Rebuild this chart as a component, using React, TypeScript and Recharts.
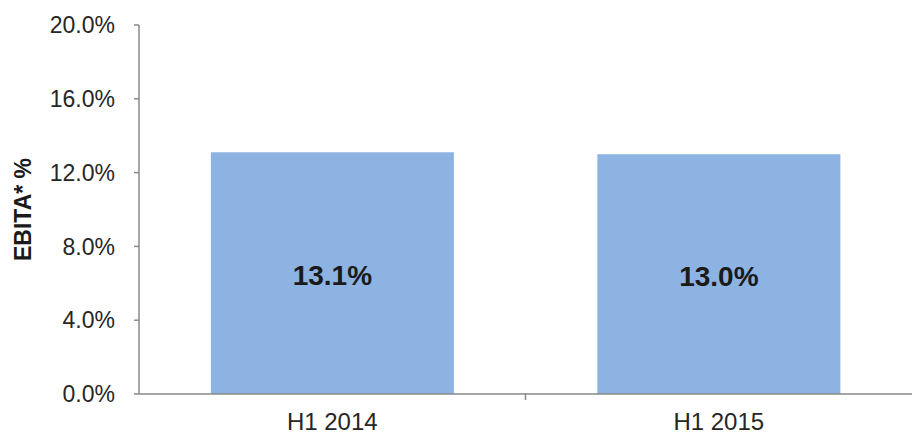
import { BarChart, Bar, XAxis, YAxis, LabelList } from 'recharts';

const periods = ['H1 2014', 'H1 2015'];
const ebitaMargin = [13.1, 13.0];
const yTicks = [0, 4, 8, 12, 16, 20];

const data = periods.map((p, i) => ({ period: p, value: ebitaMargin[i] }));

const W = 912;
const H = 434;
const AXIS_W = 139;
const BAND = (W - AXIS_W) / periods.length;

const FONT = 'Arial, "Liberation Sans", sans-serif';
const AXIS_COLOR = '#8a8a8a';

// category label at the centre, divider tick between the two periods
function XTick(props: any) {
  const { x, y, payload, index } = props;
  return (
    <g>
      <text x={x} y={y + 28} textAnchor="middle" fontFamily={FONT} fontSize={24} fill="#262626">
        {payload.value}
      </text>
      {index < periods.length - 1 && (
        <line x1={x + BAND / 2} x2={x + BAND / 2} y1={y - 9} y2={y - 2} stroke={AXIS_COLOR} strokeWidth={1.5} />
      )}
    </g>
  );
}

export default function App() {
  return (
    <div style={{ position: 'absolute', left: 0, top: 0, background: '#fff' }}>
      <BarChart
        width={W}
        height={H}
        data={data}
        margin={{ top: 25, right: 0, bottom: 0, left: 0 }}
        barCategoryGap="18.6%"
      >
        <XAxis
          dataKey="period"
          height={40}
          tickLine={false}
          axisLine={{ stroke: AXIS_COLOR, strokeWidth: 1.5 }}
          tick={<XTick />}
          interval={0}
        />
        <YAxis
          width={AXIS_W}
          domain={[0, 20]}
          ticks={yTicks}
          tickFormatter={(v: number) => `${v.toFixed(1)}%`}
          axisLine={{ stroke: AXIS_COLOR, strokeWidth: 1.5 }}
          tickLine={{ stroke: AXIS_COLOR, strokeWidth: 1.5 }}
          tickSize={5}
          tickMargin={19}
          tick={{ fontFamily: FONT, fontSize: 23, fill: '#262626' }}
          label={{
            value: 'EBITA* %',
            angle: -90,
            position: 'insideLeft',
            offset: 23,
            style: { fontFamily: FONT, fontSize: 23, fontWeight: 'bold', fill: '#1a1a1a', textAnchor: 'middle' },
          }}
        />
        <Bar dataKey="value" fill="#8db3e2" isAnimationActive={false}>
          <LabelList
            dataKey="value"
            position="center"
            formatter={(v: any) => `${Number(v).toFixed(1)}%`}
            style={{ fontFamily: FONT, fontSize: 28, fontWeight: 'bold', fill: '#1a1a1a' }}
            offset={0}
            dy={2}
          />
        </Bar>
      </BarChart>
    </div>
  );
}
